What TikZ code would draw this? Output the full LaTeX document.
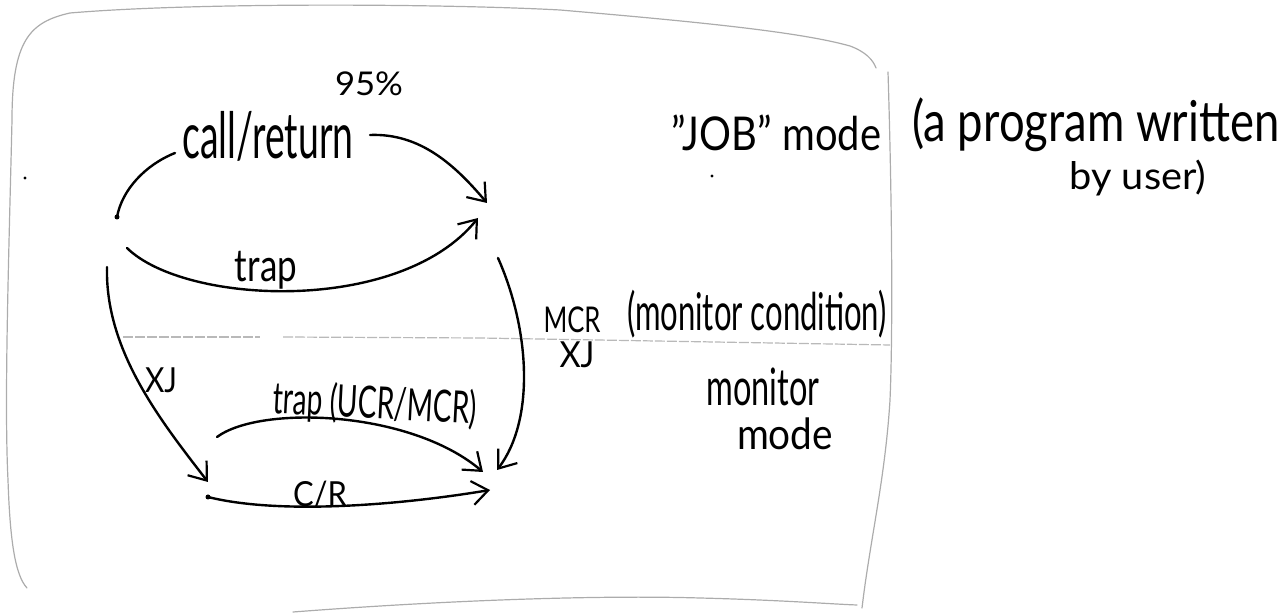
\documentclass[tikz,border=0pt]{standalone}
\usepackage{fontspec}
\usepackage{graphicx}
\setmainfont{Lato}
\usetikzlibrary{arrows.meta}
% one unit of the drawing grid
\newlength\pxu
\setlength\pxu{0.5pt}
% a label fitted to a given width and total height (in grid units)
\newcommand\hw[3]{\resizebox*{#1\pxu}{#2\pxu}{#3}}
\newcommand\dq{\symbol{34}}
\tikzset{
  ink/.style={line width=1.2pt, line cap=round, line join=round},
  flow/.style={ink, -{Straight Barb[length=8pt,width=12pt,line width=1.1pt]}},
  sheet/.style={draw=gray!65, line width=0.6pt, line cap=round},
  divider/.style={draw=gray!55, line width=0.6pt, dash pattern=on 5pt off 1pt},
  lbl/.style={inner sep=0pt, text=black},
  speck/.style={fill=black, draw=none},
}
\begin{document}
\begin{tikzpicture}[x=0.5pt,y=-0.5pt]
\useasboundingbox (0,0) rectangle (1284,613);

% ---- outline of the sheet ----
\draw[sheet] (27,588) .. controls (15,575) and (10,540) .. (8,480)
  .. controls (4,400) and (9,250) .. (12,120)
  .. controls (12,40) and (30,22) .. (70,13)
  .. controls (200,2) and (450,4) .. (560,10)
  .. controls (700,22) and (800,32) .. (850,46)
  .. controls (866,52) and (873,60) .. (876,68);
\draw[sheet] (888,72) .. controls (892,200) and (893,330) .. (890,400)
  .. controls (885,480) and (870,540) .. (862,608);
\draw[sheet] (293,612) .. controls (450,600) and (600,595) .. (700,598)
  .. controls (780,600) and (830,604) .. (857,605);

% ---- boundary between job mode and monitor mode ----
\draw[divider] (123,337) -- (260,337);
\draw[divider] (283,337) -- (480,338) -- (890,345);

% ---- labels ----
\node[lbl] (pct)    at (369,84)  {\hw{68}{24}{95\%}};
\node[lbl] (callret) at (268,136) {\hw{171}{50}{call/return}};
\node[lbl] (traplb) at (266,270) {\hw{62}{38}{trap}};
\node[lbl] (jobmode) at (776,133) {\hw{210}{36}{\dq JOB\dq{} mode}};
\node[lbl] (prog1)  at (1096,125) {\hw{367}{54}{(a program written}};
\node[lbl] (prog2)  at (1138,178) {\hw{137}{36}{by user)}};
\node[lbl] (moncond) at (757,314) {\hw{260}{48}{(monitor condition)}};
\node[lbl] (mcr)    at (572,320) {\hw{57}{26}{MCR}};
\node[lbl] (xjr)    at (577,355) {\hw{35}{26}{XJ}};
\node[lbl] (xjl)    at (161,380) {\hw{32}{25}{XJ}};
\node[lbl] (monit)  at (763,387) {\hw{113}{38}{monitor}};
\node[lbl] (monmode) at (785,434) {\hw{96}{32}{mode}};
\node[lbl, rotate=-3] (trapmr) at (375,405) {\hw{204}{42}{trap (UCR/MCR)}};
\node[lbl] (crlb)   at (320,495) {\hw{54}{27}{C/R}};

% ---- end points of the transitions ----
\coordinate (jobA)   at (117,217);
\coordinate (crIn)   at (175,153);
\coordinate (crOut)  at (370,135);
\coordinate (jobB)   at (487,203);
\coordinate (trapA)  at (127,248);
\coordinate (jobC)   at (478,218);
\coordinate (mcrA)   at (498,258);
\coordinate (monB)   at (497,470);
\coordinate (xjA)    at (107,267);
\coordinate (monA)   at (208,482);
\coordinate (tmA)    at (217,437);
\coordinate (monC)   at (483,472);
\coordinate (crA)    at (208,497);
\coordinate (monD)   at (490,490);

% ---- transitions inside job mode ----
\draw[ink] (crIn) .. controls (145,165) and (122,190) .. (jobA);
\draw[flow] (crOut) .. controls (420,133) and (455,165) .. (jobB);
\draw[flow] (trapA) .. controls (185,305) and (400,315) .. (jobC);
\fill[speck] (jobA) circle (2.5);

% ---- transitions between the modes ----
\draw[flow] (mcrA) .. controls (530,330) and (535,420) .. (monB);
\draw[flow] (xjA) .. controls (105,350) and (160,420) .. (monA);

% ---- transitions inside monitor mode ----
\draw[flow] (tmA) .. controls (260,405) and (410,410) .. (monC);
\draw[flow] (crA) .. controls (280,515) and (400,505) .. (monD);
\fill[speck] (crA) circle (2.5);

% ---- stray pen marks ----
\fill[speck] (25,178) circle (1.6);
\fill[speck] (712,176) circle (1.6);
\end{tikzpicture}
\end{document}
